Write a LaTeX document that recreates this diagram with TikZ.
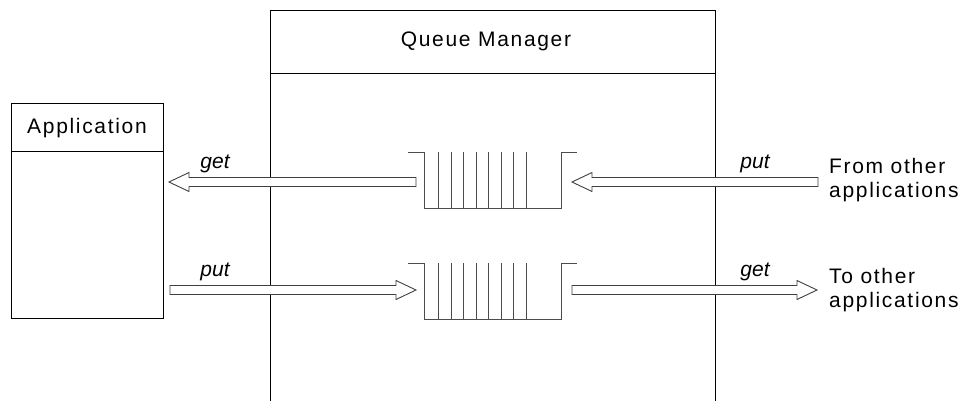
\documentclass[tikz,border=0pt]{standalone}
\usepackage{fontspec}
\setmainfont{Liberation Sans}
\newfontfamily\spaced[LetterSpace=8]{Liberation Sans}
\begin{document}
\begin{tikzpicture}[x=1pt,y=-1pt,
  lbl/.style={font=\spaced\fontsize{21}{24}\selectfont, inner sep=0pt},
  act/.style={font=\fontsize{21}{24}\selectfont\itshape, inner sep=0pt},
  box/.style={draw=black, line width=1pt},
  qline/.style={draw=black!70, line width=1pt},
  harrow/.style={draw=black!75, line width=0.9pt, fill=white}]
\useasboundingbox (0,0) rectangle (965,400);
% Application box
\node[box, minimum width=152pt, minimum height=215pt, anchor=north west] (app) at (11,103) {};
\draw[box] (11,151) -- (163,151);
\node[lbl, anchor=base] (apptxt) at (87,133) {Application};
% Queue manager (open at bottom)
\coordinate (qmbl) at (270,401);
\coordinate (qmbr) at (715,401);
\draw[box] (qmbl) -- (270,10) -- (715,10) -- (qmbr);
\draw[box] (270,73) -- (715,73);
\node[lbl, anchor=base] (qmtxt) at (486,46) {Queue Manager};
% queues
\foreach \y/\n in {152/q1,263/q2}{
  \draw[qline] (408,\y) -- (424,\y) -- (424,\y+56) -- (561,\y+56) -- (561,\y) -- (577,\y);
  \foreach \x in {438,451,463,476,488,501,513,526}{
    \draw[qline] (\x,\y) -- (\x,\y+56);
  }
}
% hollow arrows: left-pointing and right-pointing
\newcommand{\larrow}[3]{% tip x, tail x, y
  \draw[harrow] (#1,#3) -- (#1+20,#3-9.5) -- (#1+20,#3-4.5) -- (#2,#3-4.5) -- (#2,#3+4.5) -- (#1+20,#3+4.5) -- (#1+20,#3+9.5) -- cycle;}
\newcommand{\rarrow}[3]{% tail x, tip x, y
  \draw[harrow] (#2,#3) -- (#2-20,#3-9.5) -- (#2-20,#3-4.5) -- (#1,#3-4.5) -- (#1,#3+4.5) -- (#2-20,#3+4.5) -- (#2-20,#3+9.5) -- cycle;}
\larrow{169}{416}{182}
\larrow{572}{818}{182}
\rarrow{170}{416}{290}
\rarrow{572}{817}{290}
% labels
\node[act, anchor=base] (g1) at (215,168) {get};
\node[act, anchor=base] (p1) at (755,168) {put};
\node[act, anchor=base] (p2) at (215,276) {put};
\node[act, anchor=base] (g2) at (755,276) {get};
\node[lbl, anchor=base west, align=left] (from) at (829,197) {From other\\applications};
\node[lbl, anchor=base west, align=left] (to) at (829,307) {To other\\applications};
\end{tikzpicture}
\end{document}
